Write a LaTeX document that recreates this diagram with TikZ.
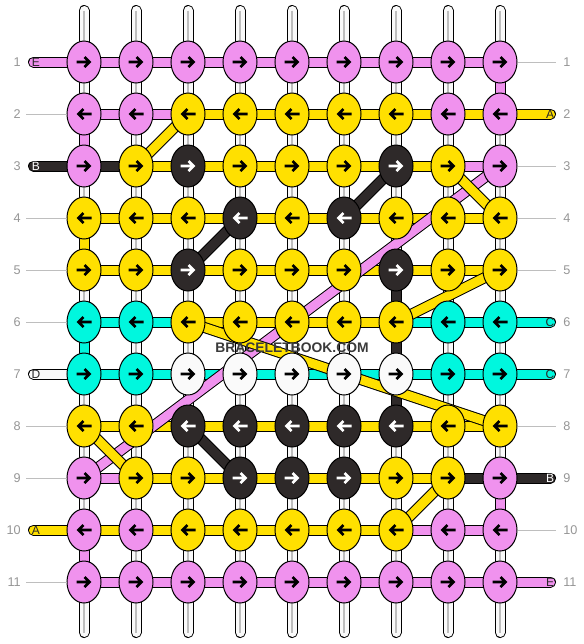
\documentclass[tikz,border=0pt]{standalone}
\usepackage{fontspec}
\setmainfont{Liberation Sans}
\usetikzlibrary{shapes.geometric}

\definecolor{cP}{RGB}{240,146,238}
\definecolor{cY}{RGB}{255,224,0}
\definecolor{cK}{RGB}{46,41,41}
\definecolor{cC}{RGB}{0,247,222}
\definecolor{cW}{RGB}{250,250,250}
\colorlet{aP}{black}
\colorlet{aY}{black}
\colorlet{aK}{white}
\colorlet{aC}{black}
\colorlet{aW}{black}
\definecolor{tagdark}{RGB}{40,40,40}
\definecolor{numgray}{RGB}{150,150,150}
\definecolor{guidegray}{RGB}{190,190,190}
\definecolor{brandgray}{RGB}{58,58,58}

\pgfdeclarelayer{paper}
\pgfdeclarelayer{warp}
\pgfdeclarelayer{strands}
\pgfsetlayers{paper,warp,strands,main}

\def\strand#1#2#3{%
	\draw[line width=8.25pt, line cap=round] (#2) -- (#3);
	\draw[line width=6.75pt, line cap=round, #1] (#2) -- (#3);}
\def\warp#1#2{%
	\draw[line width=8.25pt, line cap=round] (#1) -- (#2);
	\draw[line width=6.75pt, line cap=round, cW] (#1) -- (#2);
	\draw[line width=1pt, guidegray] (#1) -- (#2);}

\begin{document}
\begin{tikzpicture}[x=0.75pt, y=-0.75pt,
	knot/.style={ellipse, draw, line width=0.75pt, minimum width=25.5pt, minimum height=31.5pt, inner sep=0pt},
	arrowpen/.style={line width=2.1pt, line cap=butt, line join=miter},
	guide/.style={draw=guidegray, line width=0.75pt},
	rownum/.style={text=numgray, font=\fontsize{9.5}{10}\selectfont, inner sep=0pt},
	tailtag/.style={font=\fontsize{9}{10}\selectfont, inner sep=0pt},
	brand/.style={font=\bfseries\fontsize{10.4}{12}\selectfont, text=brandgray, inner sep=0pt}]
			%%%%% START %%%%%
			
			\begin{pgfonlayer}{paper}
			\fill[white] (0,0) rectangle (584,644);
			\end{pgfonlayer}
			\useasboundingbox (0,0) rectangle (584,644);
			
			% knots, odd rows to the right, even rows to the left
			\foreach \r/\row in {1/{P,P,P,P,P,P,P,P,P}, 2/{P,P,Y,Y,Y,Y,Y,P,P}, 3/{P,Y,K,Y,Y,Y,K,Y,P},
				4/{Y,Y,Y,K,Y,K,Y,Y,Y}, 5/{Y,Y,K,Y,Y,Y,K,Y,Y}, 6/{C,C,Y,Y,Y,Y,Y,C,C},
				7/{C,C,W,W,W,W,W,C,C}, 8/{Y,Y,K,K,K,K,K,Y,Y}, 9/{P,Y,Y,K,K,K,Y,Y,P},
				10/{P,P,Y,Y,Y,Y,Y,P,P}, 11/{P,P,P,P,P,P,P,P,P}}{
				\pgfmathtruncatemacro\d{1-2*mod(\r+1,2)}
				\foreach \cl [count=\c] in \row {
					\node[knot, fill=c\cl] (k\r-\c) at ({84+52*(\c-1)}, {62+52*(\r-1)}) {};
					\draw[arrowpen, a\cl, shift={(k\r-\c.center)}, xscale=\d] (-7.5,0) -- (6,0) (0.5,-5) -- (5.5,0) -- (0.5,5);
				}
			}
			
			% white base strands
			\begin{pgfonlayer}{warp}
			\foreach \c in {1,...,9}{
				\coordinate (wt\c) at ({84+52*(\c-1)}, 10.5);
				\coordinate (wb\c) at ({84+52*(\c-1)}, 632.5);
				\warp{wt\c}{k1-\c.center}
				\foreach \r in {1,...,10}{
					\pgfmathtruncatemacro\n{\r+1}
					\warp{k\r-\c.center}{k\n-\c.center}
				}
				\warp{k11-\c.center}{wb\c}
			}
			\end{pgfonlayer}
			
			\begin{pgfonlayer}{strands}
			% rows
			\foreach \r/\segs in {1/{P,P,P,P,P,P,P,P}, 2/{P,P,Y,Y,Y,Y,Y,Y}, 3/{K,Y,Y,Y,Y,Y,Y,P},
				4/{Y,Y,Y,Y,Y,Y,Y,Y}, 5/{Y,Y,Y,Y,Y,Y,Y,Y}, 6/{C,C,Y,Y,Y,Y,C,C},
				7/{C,C,C,C,C,C,C,C}, 8/{Y,Y,Y,Y,Y,Y,Y,Y}, 9/{P,Y,Y,Y,Y,Y,Y,K},
				10/{Y,Y,Y,Y,Y,Y,P,P}, 11/{P,P,P,P,P,P,P,P}}{
				\foreach \s [count=\c] in \segs {
					\pgfmathtruncatemacro\n{\c+1}
					\strand{c\s}{k\r-\c.center}{k\r-\n.center}
				}
			}
			
			% coloured strands going down
			\foreach \cl/\a/\b in {P/k1-9/k2-9, P/k2-1/k3-1, Y/k4-1/k5-1, C/k6-1/k7-1, K/k5-7/k6-7,
				K/k6-7/k7-7, K/k7-7/k8-7, P/k9-9/k10-9, P/k10-1/k11-1}
				{\strand{c\cl}{\a.center}{\b.center}}
			
			% carried strands
			\foreach \cl/\a/\b in {P/k3-9/k9-1, Y/k2-3/k3-2, K/k3-7/k4-6, K/k4-4/k5-3, Y/k3-8/k4-9,
				Y/k5-9/k6-7, Y/k6-3/k8-9, Y/k8-1/k9-2, K/k8-3/k9-4, Y/k9-8/k10-7}
				{\strand{c\cl}{\a.center}{\b.center}}
			
			% loose ends
			\foreach \r/\cl/\tag/\tc in {1/P/E/tagdark, 3/K/B/white, 7/W/D/tagdark, 10/Y/A/tagdark}{
				\coordinate (tl\r) at (33.5, {62+52*(\r-1)});
				\strand{c\cl}{tl\r}{k\r-1.center}
				\node[tailtag, text=\tc] (el\r) at (36, {62+52*(\r-1)}) {\tag};
			}
			\foreach \r/\cl/\tag/\tc in {2/Y/A/tagdark, 6/C/C/tagdark, 7/C/C/tagdark, 9/K/B/white, 11/P/E/tagdark}{
				\coordinate (tr\r) at (550.5, {62+52*(\r-1)});
				\strand{c\cl}{k\r-9.center}{tr\r}
				\node[tailtag, text=\tc] (er\r) at (550, {62+52*(\r-1)}) {\tag};
			}
			\end{pgfonlayer}
			
			% row numbers
			\foreach \r in {2,4,5,6,8,9,11}{
				\coordinate (gl\r) at (26, {62+52*(\r-1)});
				\draw[guide] (gl\r) -- (k\r-1.west);
			}
			\foreach \r in {1,3,4,5,8,10}{
				\coordinate (gr\r) at (556, {62+52*(\r-1)});
				\draw[guide] (k\r-9.east) -- (gr\r);
			}
			\foreach \r in {1,...,11}{
				\node[rownum, anchor=east] (nl\r) at (21, {62+52*(\r-1)}) {\r};
				\node[rownum, anchor=west] (nr\r) at (563, {62+52*(\r-1)}) {\r};
			}
			
			\node[brand] (site) at (292,347.5) {BRACELETBOOK.COM};
			
			%%%%% END %%%%%
\end{tikzpicture}
\end{document}
